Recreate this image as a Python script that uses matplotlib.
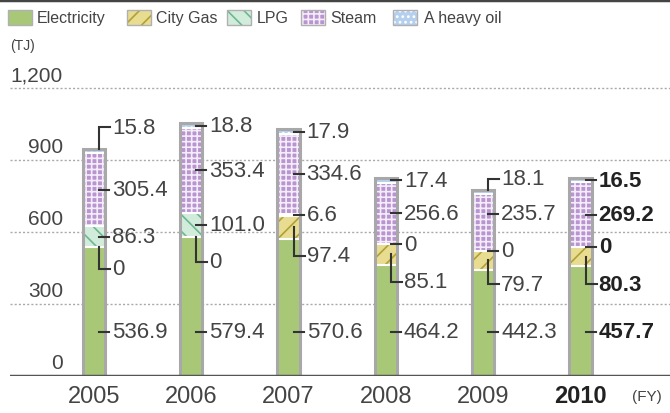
import numpy as np
import matplotlib.pyplot as plt
import matplotlib.patches as mpatches

years = ['2005', '2006', '2007', '2008', '2009', '2010']
series = ['Electricity', 'City Gas', 'LPG', 'Steam', 'A heavy oil']
electricity = [536.9, 579.4, 570.6, 464.2, 442.3, 457.7]
city_gas = [0, 0, 97.4, 85.1, 79.7, 80.3]
lpg = [86.3, 101.0, 6.6, 0, 0, 0]
steam = [305.4, 353.4, 334.6, 256.6, 235.7, 269.2]
heavy_oil = [15.8, 18.8, 17.9, 17.4, 18.1, 16.5]
yticks = [0, 300, 600, 900, 1200]

data = [electricity, city_gas, lpg, steam, heavy_oil]
faces = ['#a8c878', '#e8dc90', '#d2ecdc', '#b894d0', '#b4d0ee']
hatches = [None, '//', '\\\\', '+++', '...']
hcols = [None, '#b0a038', '#6cb890', '#f4ecf8', '#ffffff']

plt.rcParams['font.family'] = ['Liberation Sans', 'DejaVu Sans']
plt.rcParams['hatch.linewidth'] = 1.2

fig = plt.figure(figsize=(6.7, 4.14), dpi=100)
ax = fig.add_axes([10 / 670, 37 / 414, 660 / 670, 312 / 414])
ax.set_xlim(-0.86, 5.92)
ax.set_ylim(0, 1300)
ax.axis('off')

px = 1 / 97.3  # one pixel in x data units
x = np.arange(len(years))
w = 0.23

# grid
for v in yticks[1:]:
    ax.axhline(v, color='#aaaaaa', lw=1, ls=(0, (1.5, 1.5)), zorder=0)
    ax.text(-0.315, v + 55, f'{v:,}', ha='right', va='center', fontsize=15, color='#444444')
ax.text(-0.315, 55, '0', ha='right', va='center', fontsize=15, color='#444444')
ax.axhline(0, color='#555555', lw=2.5, zorder=5)

bottom = np.zeros(len(years))
for vals, fc, h, hc in zip(data, faces, hatches, hcols):
    vals = np.array(vals)
    ax.bar(x, vals, w, bottom=bottom, color=fc, lw=0, zorder=2)
    if h:
        ax.bar(x, vals, w, bottom=bottom, facecolor='none', edgecolor=hc, hatch=h, lw=0, zorder=2)
    bottom = bottom + vals
    # white separators
    for i in range(len(years)):
        if vals[i] > 0:
            ax.plot([x[i] - w / 2, x[i] + w / 2], [bottom[i], bottom[i]], color='white', lw=1.5, zorder=3)
totals = bottom
ax.bar(x, totals, w, facecolor='none', edgecolor='#a8a8a8', lw=2.2, zorder=4)

# label placement: dash at mid, or L-shaped leaders
label_y = {}
for i in range(len(years)):
    b = 0
    for s, vals in enumerate(data):
        label_y[(s, i)] = b + vals[i] / 2
        b += vals[i]
# electricity labels all on one level
for i in range(len(years)):
    label_y[(0, i)] = 185
down = {(1, 0): 446, (1, 1): 475, (1, 2): 500, (1, 3): 392, (1, 4): 383, (1, 5): 383}
up = {(4, 0): 1037, (4, 4): 821}
label_y[(3, 4)] = 675

for i in range(len(years)):
    bold = years[i] == '2010'
    tc = '#222222' if bold else '#444444'
    fw = 'bold' if bold else 'normal'
    xr = x[i] + w / 2
    for s in range(len(series)):
        ly = label_y[(s, i)]
        if (s, i) in down or (s, i) in up:
            ly = down.get((s, i), up.get((s, i)))
            start = label_y[(s, i)] if (s, i) in down else totals[i]
            vx = xr - 6 * px
            ax.plot([vx, vx, xr + 5 * px], [start, ly, ly], color='#333333', lw=1.5,
                    solid_joinstyle='miter', zorder=6)
        else:
            ax.plot([xr - 6 * px, xr + 4 * px], [ly, ly], color='#333333', lw=1.5, zorder=6)
        v = data[s][i]
        txt = '0' if v == 0 else f'{v:.1f}'
        ax.text(xr + 7 * px, ly, txt, ha='left', va='center', fontsize=16, color=tc, fontweight=fw)
    ax.text(x[i], -83, years[i], ha='center', va='center', fontsize=17, color=tc, fontweight=fw,
            clip_on=False)

fig.text(632 / 670, 1 - 397 / 414, '(FY)', ha='left', va='center', fontsize=11, color='#444444')
fig.text(10 / 670, 1 - 46 / 414, '(TJ)', ha='left', va='center', fontsize=10, color='#444444')

# legend
patch_x = [8, 127, 227, 301, 393]
text_x = [37, 156, 257, 330, 424]
for name, fc, h, hc, pxl, tx in zip(series, faces, hatches, hcols, patch_x, text_x):
    box = (pxl / 670, 1 - 26 / 414)
    bw, bh = 24 / 670, 15 / 414
    fig.add_artist(mpatches.Rectangle(box, bw, bh, transform=fig.transFigure,
                                      facecolor=fc, edgecolor='none', lw=0))
    if h:
        fig.add_artist(mpatches.Rectangle(box, bw, bh, transform=fig.transFigure, facecolor='none',
                                          edgecolor=hc, hatch=h, lw=0))
    fig.add_artist(mpatches.Rectangle(box, bw, bh, transform=fig.transFigure, facecolor='none',
                                      edgecolor='#b0b0b0', lw=1))
    fig.text(tx / 670, 1 - 18.5 / 414, name, ha='left', va='center', fontsize=11.5, color='#444444')

fig.add_artist(plt.Line2D([0, 1], [1 - 1 / 414, 1 - 1 / 414], transform=fig.transFigure,
                          color='#444444', lw=2.5))

fig.savefig('out.png', dpi=100)
